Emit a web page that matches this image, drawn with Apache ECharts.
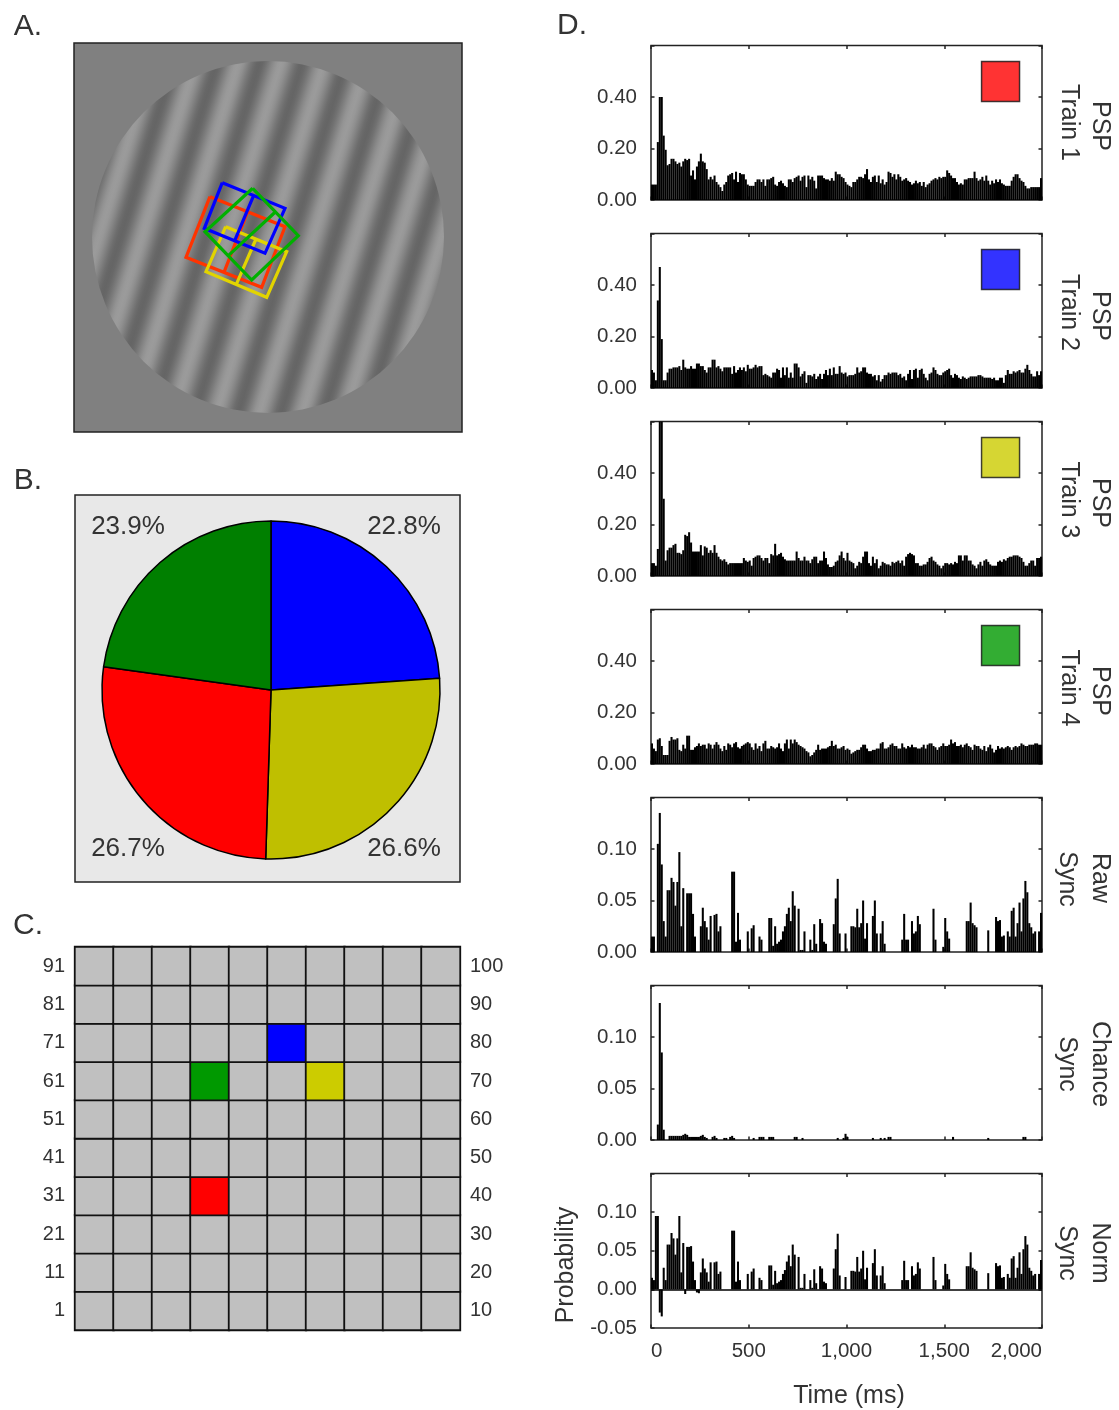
<!DOCTYPE html>
<html><head><meta charset="utf-8">
<style>html,body{margin:0;padding:0;background:#fff}#c{width:1119px;height:1410px}</style>
<script src="https://cdn.jsdelivr.net/npm/echarts@6/dist/echarts.min.js"></script>
</head><body><div id="c"></div>
<script>
// ---------- Panel D data (200 bins of 10 ms) ----------
const binMs = 10;
const train1 = [
.06,.06,.06,.225,.40,.40,.25,.195,.135,.14,.16,.16,.15,.14,.145,.13,.15,.16,.155,.16,
.095,.115,.08,.13,.15,.18,.15,.145,.12,.08,.09,.08,.095,.07,.06,.05,.035,.06,.07,.095,
.10,.105,.08,.11,.07,.105,.10,.10,.08,.06,.055,.055,.055,.07,.08,.08,.07,.08,.055,.08,
.08,.085,.09,.06,.055,.07,.075,.065,.055,.05,.08,.08,.07,.085,.09,.095,.075,.09,.095,.05,
.095,.08,.09,.075,.045,.095,.095,.095,.085,.08,.08,.075,.085,.075,.11,.10,.10,.09,.085,.07,
.06,.055,.05,.07,.07,.08,.09,.09,.085,.10,.12,.08,.07,.09,.095,.07,.095,.065,.08,.06,
.07,.11,.105,.09,.10,.08,.10,.09,.075,.08,.085,.075,.07,.06,.065,.075,.065,.07,.055,.07,
.05,.06,.065,.075,.08,.085,.08,.09,.085,.09,.09,.115,.105,.095,.085,.085,.07,.06,.065,.06,
.08,.08,.085,.085,.085,.11,.085,.075,.08,.09,.075,.095,.075,.06,.075,.065,.08,.07,.08,.065,
.06,.055,.055,.055,.075,.09,.10,.10,.085,.075,.07,.055,.045,.045,.05,.05,.05,.05,.05,.085];
const train2 = [
.07,.06,.03,.34,.47,.19,.03,.03,.06,.075,.075,.08,.08,.08,.085,.07,.11,.08,.075,.075,
.085,.075,.075,.095,.095,.085,.085,.07,.06,.08,.08,.11,.11,.08,.085,.075,.065,.08,.08,.08,
.08,.055,.085,.06,.07,.08,.07,.08,.065,.09,.075,.075,.08,.09,.08,.085,.085,.05,.055,.05,
.045,.04,.06,.06,.075,.07,.04,.08,.05,.08,.04,.06,.04,.095,.095,.08,.045,.055,.065,.02,
.05,.05,.045,.055,.035,.045,.055,.035,.055,.07,.05,.075,.05,.08,.055,.055,.085,.06,.055,.06,
.045,.05,.05,.05,.055,.08,.06,.065,.08,.08,.06,.055,.055,.045,.05,.03,.05,.025,.035,.05,
.05,.06,.055,.06,.06,.06,.05,.055,.04,.045,.03,.055,.07,.035,.07,.075,.04,.07,.075,.055,
.04,.03,.055,.06,.08,.07,.055,.05,.05,.06,.065,.07,.075,.05,.04,.055,.05,.04,.035,.045,
.04,.035,.04,.045,.045,.045,.045,.05,.05,.045,.04,.04,.04,.04,.035,.04,.03,.03,.04,.04,
.02,.05,.07,.055,.055,.065,.06,.065,.07,.06,.06,.075,.09,.07,.055,.045,.045,.065,.05,.065];
const train3 = [
.05,.05,.04,.105,.65,.65,.30,.06,.10,.11,.11,.12,.125,.09,.09,.085,.10,.16,.155,.17,
.13,.095,.095,.095,.095,.12,.08,.115,.11,.09,.10,.09,.12,.09,.075,.065,.06,.065,.055,.045,
.05,.05,.05,.05,.05,.05,.05,.07,.06,.055,.06,.04,.07,.075,.08,.08,.07,.06,.07,.07,
.05,.085,.08,.125,.08,.085,.09,.075,.065,.06,.06,.06,.06,.06,.095,.07,.06,.06,.075,.06,
.06,.05,.065,.075,.075,.05,.06,.06,.095,.07,.045,.035,.035,.04,.055,.06,.08,.095,.07,.06,
.09,.06,.055,.05,.03,.04,.055,.05,.075,.095,.095,.05,.04,.075,.05,.065,.03,.04,.055,.05,
.045,.045,.04,.055,.05,.055,.06,.05,.06,.04,.075,.085,.09,.085,.08,.05,.05,.04,.04,.045,
.045,.055,.07,.075,.06,.055,.045,.04,.03,.04,.05,.05,.045,.05,.045,.055,.05,.08,.08,.06,
.08,.08,.06,.06,.045,.04,.03,.045,.055,.04,.06,.065,.055,.045,.04,.04,.04,.055,.06,.055,
.065,.06,.07,.075,.075,.08,.08,.08,.075,.07,.055,.04,.04,.05,.06,.06,.04,.07,.07,.075];
const train4 = [
.08,.06,.05,.095,.10,.07,.035,.035,.035,.09,.105,.095,.095,.10,.055,.05,.075,.06,.11,.11,
.055,.055,.065,.07,.08,.07,.075,.075,.06,.08,.075,.06,.075,.085,.075,.06,.05,.07,.055,.08,
.075,.065,.08,.085,.065,.06,.07,.075,.08,.085,.08,.065,.055,.08,.06,.07,.05,.08,.09,.06,
.06,.07,.065,.06,.065,.08,.06,.05,.08,.095,.06,.095,.08,.095,.085,.075,.07,.065,.06,.05,
.045,.03,.035,.045,.055,.075,.055,.06,.06,.06,.065,.07,.09,.07,.075,.06,.06,.065,.07,.055,
.06,.055,.04,.045,.05,.055,.055,.065,.075,.075,.06,.05,.05,.055,.055,.06,.06,.08,.085,.06,
.06,.065,.075,.08,.07,.07,.06,.06,.08,.065,.06,.07,.065,.075,.065,.065,.06,.06,.065,.075,
.06,.075,.08,.08,.07,.065,.055,.065,.07,.08,.07,.07,.075,.095,.08,.085,.07,.07,.075,.065,
.075,.08,.07,.065,.055,.075,.07,.07,.06,.055,.07,.05,.065,.075,.06,.045,.055,.07,.06,.065,
.06,.065,.07,.065,.055,.065,.07,.065,.07,.08,.075,.07,.07,.075,.075,.075,.08,.08,.075,.075];
const rawSync = [
.015,.015,0,.105,.135,.085,.03,.015,.06,.06,.072,.068,.045,.068,.097,.025,.062,0,.057,.057,
.057,.037,.015,0,0,.025,.043,.03,.024,.012,.035,0,.036,.037,.02,.025,0,0,0,0,
0,.078,.078,.01,.038,.012,0,0,0,.02,0,.023,.026,0,0,.015,.012,0,0,0,
.033,.033,.006,.025,.008,.01,.012,.02,.025,.037,.043,.03,.059,.045,0,.042,.002,.002,.02,0,
0,.012,.002,.027,.008,0,.032,.028,.01,.008,0,0,0,.027,.052,.071,.018,0,0,.018,
0,0,.025,.025,.024,.042,.024,.028,.05,.013,.028,0,0,.035,.05,.018,0,.018,.03,.008,
0,0,0,0,0,0,0,0,.012,.037,.012,.012,0,.03,.018,.02,.035,.027,0,0,
0,0,0,0,.042,.012,0,0,0,.005,.033,.02,.013,0,0,0,0,0,0,0,
0,.03,.03,.048,.028,.026,.024,0,0,0,0,0,.021,0,0,0,.034,.03,.031,.015,
.016,0,.02,.015,.04,.043,.015,.028,.048,.02,.052,.069,.058,.028,.024,.018,.02,0,.02,.038];
const chanceSync = [
0,0,0,.015,.133,.085,.01,0,0,.004,.004,.004,.004,.004,.004,.004,.005,.006,.005,.003,
.003,.003,.003,.003,.003,.004,.005,.003,.002,0,0,.003,.004,.002,0,0,0,.002,.002,0,
.003,.004,.002,0,0,0,0,0,0,0,0,0,.002,0,0,.003,.003,.003,0,0,
.003,.003,.003,0,0,0,0,0,0,0,0,0,0,.003,.003,0,0,.002,0,0,
0,0,0,0,0,0,0,0,0,0,0,0,0,0,0,.002,0,0,.002,.006,
.003,0,0,0,0,0,0,0,0,0,0,0,0,.002,0,0,0,.002,0,.002,
0,.003,.003,0,0,0,0,0,0,0,0,0,0,0,0,0,0,0,0,0,
0,0,0,0,0,0,0,0,0,0,0,0,0,0,.003,0,0,0,0,0,
0,0,0,0,0,0,0,0,0,0,0,0,.002,0,0,0,0,0,0,0,
0,0,0,0,0,0,0,0,0,0,.003,.003,0,0,0,0,0,0,0,0];
const normSync = [
.015,.012,.095,.095,-.03,-.035,.028,.012,.058,.058,.073,.066,.045,.066,.095,.022,.06,-.006,.055,.055,
.056,.036,.012,-.004,-.005,.022,.04,.027,.022,.01,.035,0,.035,.036,.02,.023,0,0,0,0,
0,.076,.076,.01,.036,.012,0,0,0,.02,0,.023,.027,0,0,.015,.012,0,0,0,
.031,.031,.006,.024,.008,.01,.012,.02,.025,.036,.044,.03,.058,.045,0,.042,.002,.002,.02,0,
0,.012,.002,.026,.008,0,.03,.027,.01,.008,0,0,0,.027,.052,.072,.018,0,0,.016,
0,0,.024,.024,.023,.042,.023,.027,.05,.013,.028,0,0,.034,.052,.018,0,.018,.03,.008,
0,0,0,0,0,0,0,0,.012,.037,.012,.012,0,.03,.018,.02,.035,.027,0,0,
0,0,0,0,.042,.012,0,0,0,.005,.033,.02,.013,0,0,0,0,0,0,0,
0,.03,.03,.048,.028,.026,.024,0,0,0,0,0,.021,0,0,0,.034,.03,.031,.015,
.016,0,.02,.015,.04,.043,.015,.028,.048,.02,.052,.069,.058,.028,.024,.018,.02,0,.02,.038];
const panelSeries = [train1, train2, train3, train4, rawSync, chanceSync, normSync];
const panelLine1 = ['PSP','PSP','PSP','PSP','Raw','Chance','Norm'];
const panelLine2 = ['Train 1','Train 2','Train 3','Train 4','Sync','Sync','Sync'];
const panelMin = [0,0,0,0,0,0,-0.05];
const panelMax = [0.6,0.6,0.6,0.6,0.15,0.15,0.15];
const panelStep = [0.2,0.2,0.2,0.2,0.05,0.05,0.05];
const swatchColors = ['#ff0000','#0000ff','#cccc00','#009900'];
const xTicks = [0,500,1000,1500,2000];

// ---------- Panel A: stimulus rectangles, in stimulus units ----------
const squareRed    = [[136,153.7],[211,183.7],[187.7,244.3],[112,214.3],[136,153.7],['-','-'],[173.7,168.7],[150,229.3]];
const squareYellow = [[151.7,183.7],[212.7,208.7],[192.7,254.3],[132,228.7],[151.7,183.7],['-','-'],[182,196],[162.3,241.3]];
const squareBlue   = [[148.3,139.7],[211,165.3],[191,210.3],[130.3,185.3],[148.3,139.7],['-','-'],[179.7,152.3],[160.7,197.7]];
const squareGreen  = [[178.7,145.3],[224.3,192.7],[177.7,237],[131,188.7],[178.7,145.3],['-','-'],[201.3,169],[154.3,212.7]];
const gratingDisc = [[194,194,176]];

// ---------- Panel B ----------
const pieNames = ['blue','yellow','red','green'];
const pieValues = [23.9,26.6,26.7,22.8];
const pieColors = ['#0000ff','#bfbf00','#ff0000','#007f00'];
const pieLabels = ['23.9%','22.8%','26.7%','26.6%'];

// ---------- Panel C ----------
const columns = ['1','2','3','4','5','6','7','8','9','10'];
const rowsLeft = ['1','11','21','31','41','51','61','71','81','91'];
const rowsRight = ['10','20','30','40','50','60','70','80','90','100'];
const highlightCells = [[5,7,'#0000ff'],[3,6,'#009900'],[6,6,'#cccc00'],[3,3,'#ff0000']];

const FONT = '"Liberation Sans", Arial, sans-serif';
const INK = '#333';
const chart = echarts.init(document.getElementById('c'), null, {renderer:'canvas'});

const grids = [], xAxes = [], yAxes = [], series = [], graphics = [];
function addText(text, x, y, size, rot, align){
  graphics.push({type:'text', x, y, rotation: rot||0, silent:true,
    style:{text, font:size+'px '+FONT, fill:INK, align:align||'center', verticalAlign:'middle'}});
}

// Panel A
grids.push({left:74, top:43, width:388, height:389, show:true, backgroundColor:'#808080', borderColor:'#222', borderWidth:1.5});
xAxes.push({gridIndex:0, type:'value', min:0, max:388, show:false});
yAxes.push({gridIndex:0, type:'value', min:0, max:389, inverse:true, show:false});
series.push({type:'custom', xAxisIndex:0, yAxisIndex:0, silent:true, data:gratingDisc,
  renderItem(params, api){
    const c = api.coord([api.value(0), api.value(1)]);
    const r = api.size([api.value(2), 0])[0];
    const tilt = 17*Math.PI/180, nx = Math.cos(tilt), ny = Math.sin(tilt), period = 41, phase = 1.2;
    const stops = [];
    const N = 120;
    for (let i=0;i<=N;i++){
      const t = i/N, d = (t-0.5)*2*r;
      const g = Math.round(128 + 27*Math.sin(2*Math.PI*d/period + phase));
      stops.push({offset:t, color:'rgb('+g+','+g+','+g+')'});
    }
    const grad = new echarts.graphic.LinearGradient(c[0]-nx*r, c[1]-ny*r, c[0]+nx*r, c[1]+ny*r, stops, true);
    return {type:'circle', shape:{cx:c[0], cy:c[1], r}, style:{fill:grad}};
  }});
[[squareRed,'#ff3300'],[squareYellow,'#e2d400'],[squareBlue,'#0000ff'],[squareGreen,'#00b000']].forEach(([d,col])=>{
  series.push({type:'line', xAxisIndex:0, yAxisIndex:0, data:d, symbol:'none', silent:true, connectNulls:false,
    lineStyle:{color:col, width:3.2, join:'miter'}, clip:true});
});

// Panel B frame + pie
graphics.push({type:'rect', z:-1, shape:{x:75,y:495,width:385,height:387}, silent:true,
  style:{fill:'#e8e8e8', stroke:'#222', lineWidth:1.5}});
series.push({type:'pie', silent:true, center:[271,690], radius:[0,169], startAngle:90, clockwise:true, z:3,
  label:{show:false}, labelLine:{show:false}, emphasis:{disabled:true},
  itemStyle:{borderColor:'#000', borderWidth:1.5},
  data:pieValues.map((v,i)=>({name:pieNames[i], value:v, itemStyle:{color:pieColors[i]}}))});
[[128,527],[404,527],[128,849],[404,849]].forEach((p,i)=>addText(pieLabels[i],p[0],p[1],26));

// Panel C
grids.push({left:75, top:947, width:385, height:383, show:false});
xAxes.push({gridIndex:1, type:'category', data:columns, show:false});
yAxes.push({gridIndex:1, type:'category', data:rowsLeft, axisLine:{show:false}, axisTick:{show:false},
  axisLabel:{color:INK, fontFamily:FONT, fontSize:20, margin:10}});
yAxes.push({gridIndex:1, type:'category', position:'right', data:rowsRight, axisLine:{show:false}, axisTick:{show:false},
  axisLabel:{color:INK, fontFamily:FONT, fontSize:20, margin:10}});
const cellData = [];
columns.forEach((_,cx)=>rowsLeft.forEach((_,ry)=>{
  const hit = highlightCells.find(h=>h[0]===cx && h[1]===ry);
  cellData.push({value:[cx,ry,1], itemStyle:{color: hit ? hit[2] : '#c0c0c0'}});
}));
series.push({type:'heatmap', xAxisIndex:1, yAxisIndex:1, data:cellData, silent:true,
  itemStyle:{borderColor:'#111', borderWidth:1.8}, emphasis:{disabled:true}});

// Panel D
const panelTops = [45.5,233.5,421.5,609.5,797.5,985.5,1173.5];
const labelCenters = [[126,122.5],[316,312.5],[503,500],[691,688],[878,879],[1064,1064],[1253,1253]];
const labelSize = 25;
panelSeries.forEach((vals,k)=>{
  const g = grids.length, xi = xAxes.length, yi = yAxes.length;
  const mn = panelMin[k], mx = panelMax[k], st = panelStep[k];
  grids.push({left:651, top:panelTops[k], width:391, height:154.5, show:true, backgroundColor:'#fff', borderColor:'#222', borderWidth:1.5});
  const isLast = k===panelSeries.length-1;
  const tick = {show:true, inside:true, length:3.5, lineStyle:{color:'#222', width:1.5}};
  xAxes.push({gridIndex:g, type:'value', min:0, max:2000, interval:500, position:'bottom', axisLine:{show:false, onZero:false},
    axisTick:tick, splitLine:{show:false},
    axisLabel: isLast ? {show:true, color:INK, fontFamily:FONT, fontSize:20.5, margin:13, alignMinLabel:'left', alignMaxLabel:'right', showMinLabel:true, showMaxLabel:true} : {show:false}});
  xAxes.push({gridIndex:g, type:'value', min:0, max:2000, interval:500, position:'top', axisLine:{show:false, onZero:false},
    axisTick:tick, splitLine:{show:false}, axisLabel:{show:false}});
  yAxes.push({gridIndex:g, type:'value', min:mn, max:mx, interval:st, position:'left', axisLine:{show:false, onZero:false},
    axisTick:tick, splitLine:{show:false},
    axisLabel:{color:INK, fontFamily:FONT, fontSize:20.5, margin:14, padding:[0,0,10,0],
      formatter:v=> v>=mx-1e-6 ? '' : v.toFixed(2)}});
  yAxes.push({gridIndex:g, type:'value', min:mn, max:mx, interval:st, position:'right', axisLine:{show:false, onZero:false},
    axisTick:tick, splitLine:{show:false}, axisLabel:{show:false}});
  const s = {type:'bar', xAxisIndex:xi, yAxisIndex:yi, silent:true, barWidth:2.05, z:2,
    itemStyle:{color:'#000'},
    data:vals.map((v,i)=>[i*binMs+binMs/2, v])};
  if (isLast){
    s.markLine = {silent:true, symbol:'none', label:{show:false}, lineStyle:{color:'#000', type:'solid', width:1.5},
      animation:false, data:[{yAxis:0}]};
  }
  series.push(s);
  if (k<swatchColors.length){
    series.push({type:'scatter', xAxisIndex:xi, yAxisIndex:yi, silent:true, symbol:'rect', symbolSize:[38,40], z:4,
      itemStyle:{color:swatchColors[k], borderColor:'#111', borderWidth:1.5},
      data:[[1788,0.46]]});
  }
  addText(panelLine1[k], 1100, labelCenters[k][0], labelSize, -Math.PI/2);
  addText(panelLine2[k], k<4?1069:1067, labelCenters[k][1], labelSize, -Math.PI/2);
});
addText('Time (ms)', 849, 1396, 25);
addText('Probability', 566, 1265, 25, Math.PI/2);
addText('A.', 28, 27, 30);
addText('B.', 28, 481, 30);
addText('C.', 28, 926, 30);
addText('D.', 572, 26, 30);

chart.setOption({animation:false, backgroundColor:'#fff', textStyle:{fontFamily:FONT},
  grid:grids, xAxis:xAxes, yAxis:yAxes, series, graphic:{elements:graphics}});
</script></body></html>
